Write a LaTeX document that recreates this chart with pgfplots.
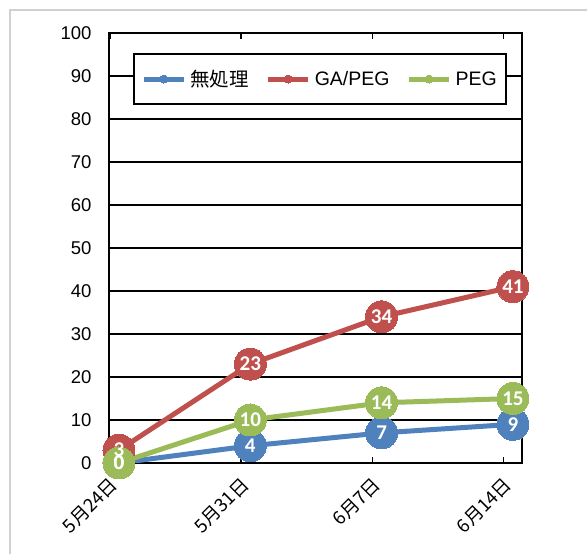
\documentclass[border=0pt]{standalone}
\usepackage{fontspec}
\setmainfont{Liberation Sans}
\newfontfamily\jp{Noto Sans CJK JP}
\newfontfamily\lbl{Carlito}
\usepackage{pgfplots}
\pgfplotsset{compat=1.18}
\usepackage{pgfplotstable}

\definecolor{sblue}{HTML}{4F81BD}
\definecolor{sred}{HTML}{C0504D}
\definecolor{sgreen}{HTML}{9BBB59}

% a: 無処理, b: GA/PEG, c: PEG
\pgfplotstableread{
x a b c
0 0 3 0
1 4 23 10
2 7 34 14
3 9 41 15
}\datatable

\begin{document}
\begin{tikzpicture}
\useasboundingbox (0pt,0pt) rectangle (587pt,554pt);
\fill[white] (0pt,0pt) rectangle (587pt,554pt);
\draw[black!18, line width=1.5pt] (10pt,-5pt) -- (10pt,544pt) -- (600pt,544pt);
\begin{axis}[
  at={(109pt,91pt)}, anchor=south west,
  scale only axis, width=413pt, height=430pt,
  xmin=-0.076, xmax=3.069, ymin=0, ymax=100,
  axis line style={line width=2.2pt, black},
  xtick={-0.07,0.93,1.93,2.93},
  xticklabels={{\jp 5月24日},{\jp 5月31日},{\jp 6月7日},{\jp 6月14日}},
  xticklabel style={xshift=7pt, yshift=-16pt, rotate=45, anchor=east,
    font=\fontsize{18.5}{18.5}\selectfont},
  xtick style={black, line width=1.5pt},
  tick align=inside, major tick length=6pt,
  ytick={0,10,...,100},
  ytick style={draw=none},
  yticklabel style={font=\fontsize{18.5}{18.5}\selectfont, xshift=-14pt},
  /pgf/number format/assume math mode=true,
  ymajorgrids, major grid style={black, line width=1.8pt},
  legend columns=3,
  legend style={at={(0.511,0.893)}, anchor=center, draw=black, line width=2pt,
    fill=white, font=\fontsize{19.5}{19.5}\selectfont,
    inner xsep=7pt, inner ysep=14pt,
    /tikz/every odd column/.append style={column sep=2pt},
    /tikz/every even column/.append style={column sep=15pt}},
  legend image code/.code={%
    \draw[mark repeat=2, mark phase=2, #1, mark size=4pt, line width=5pt]
      plot coordinates {(0pt,0pt) (20pt,0pt) (40pt,0pt)};},
  every axis plot/.append style={line width=5pt, mark=*, mark size=16pt},
]
\addplot[sblue, mark options={fill=sblue, draw=sblue, line width=0pt}] table[x=x, y=a] {\datatable};
\addlegendentry{\jp 無処理}
\addplot[sred, mark options={fill=sred, draw=sred, line width=0pt}] table[x=x, y=b] {\datatable};
\addlegendentry{GA/PEG}
\addplot[sgreen, mark options={fill=sgreen, draw=sgreen, line width=0pt}] table[x=x, y=c] {\datatable};
\addlegendentry{PEG}
% value labels on top of every marker
\pgfplotsset{every node near coord/.style={anchor=center, text=white,
  font=\lbl\bfseries\fontsize{21}{21}\selectfont}}
\addplot[draw=none, mark=none, forget plot, nodes near coords] table[x=x, y=a] {\datatable};
\addplot[draw=none, mark=none, forget plot, nodes near coords] table[x=x, y=b] {\datatable};
\addplot[draw=none, mark=none, forget plot, nodes near coords] table[x=x, y=c] {\datatable};
\end{axis}
\end{tikzpicture}
\end{document}
